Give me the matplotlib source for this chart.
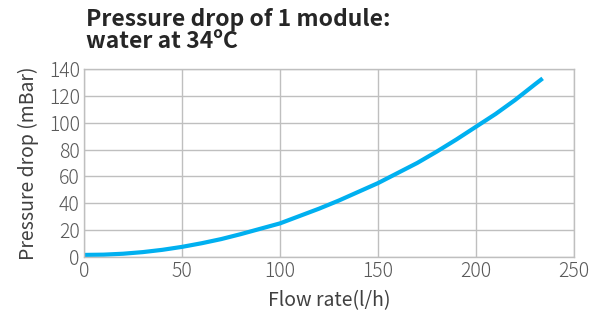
import matplotlib
matplotlib.use('Agg')
import matplotlib.pyplot as plt

# Flow rate (l/h) and pressure drop (mBar)
flow = [0, 10, 20, 30, 40, 50, 60, 70, 80, 90, 100, 110, 120,
        130, 140, 150, 160, 170, 180, 190, 200, 210, 220, 230, 234]
pressure = [1.5, 1.7, 2.4, 3.6, 5.3, 7.5, 10.2, 13.3, 17, 21, 25, 30.5, 36,
            42, 48.5, 55, 62.5, 70, 78.5, 87.5, 97, 106.5, 117, 128.5, 133]

x_ticks = [0, 50, 100, 150, 200, 250]
y_ticks = [0, 20, 40, 60, 80, 100, 120, 140]

plt.rcParams['font.family'] = ['Noto Sans CJK JP', 'DejaVu Sans']

fig = plt.figure(figsize=(6.02, 3.18), dpi=100)
ax = fig.add_axes([0.1395, 0.192, 0.814, 0.591])

ax.plot(flow, pressure, color='#00B0F0', linewidth=3, solid_capstyle='butt')

ax.set_xlim(0, 250)
ax.set_ylim(0, 140)
ax.set_xticks(x_ticks)
ax.set_yticks(y_ticks)
ax.grid(True, color='#BFBFBF', linewidth=1)
ax.set_axisbelow(True)
for s in ax.spines.values():
    s.set_color('#BFBFBF')
    s.set_linewidth(1)
ax.tick_params(length=0, labelsize=14, colors='#595959', pad=3)
for lab in ax.get_xticklabels() + ax.get_yticklabels():
    lab.set_fontweight('light')

ax.set_xlabel('Flow rate(l/h)', fontsize=14, color='#404040', labelpad=6)
ax.set_ylabel('Pressure drop (mBar)', fontsize=14, color='#404040', labelpad=7)

fig.text(0.143, 0.975, 'Pressure drop of 1 module:\nwater at 34ºC', fontsize=16.5,
         fontweight='bold', color='#262626', va='top', ha='left', linespacing=0.92)

fig.savefig('out.png', dpi=100)
